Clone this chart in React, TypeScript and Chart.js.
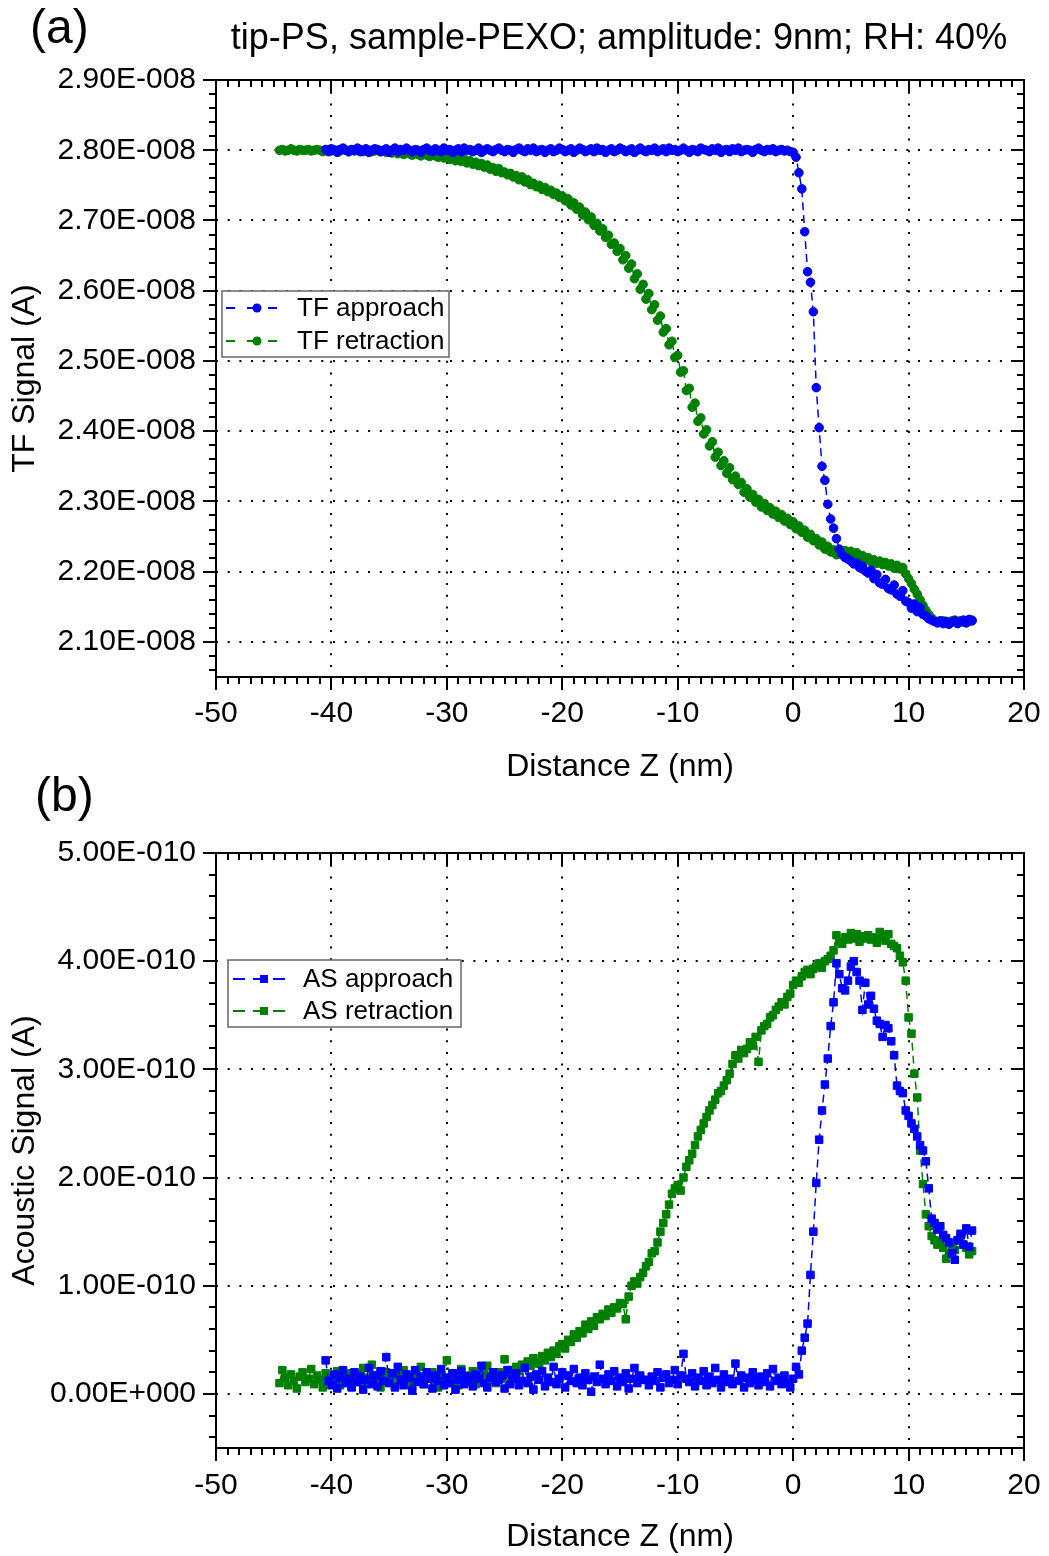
import React, { useEffect, useRef } from 'react';
import { Chart, registerables } from 'chart.js';

Chart.register(...registerables);

const FONT = "'Liberation Sans', Arial, Helvetica, sans-serif";
Chart.defaults.font.family = FONT;
Chart.defaults.color = '#000';

// ---------- data ----------
// Distance Z sampling grid (nm)
const APPROACH_Z_START = -40.5;
const RETRACTION_Z_START = -44.5;
const Z_STEP = 0.25;

const TF_UNIT = 1e-8; // TF values below are in units of 1E-008 A
const AS_UNIT = 1e-10; // AS values below are in units of 1E-010 A

const X_TICKS = [-50, -40, -30, -20, -10, 0, 10, 20];
const TF_Y_TICKS = [2.1, 2.2, 2.3, 2.4, 2.5, 2.6, 2.7, 2.8, 2.9];
const AS_Y_TICKS = [0, 1, 2, 3, 4, 5];

const SERIES_LABELS = ['TF approach', 'TF retraction', 'AS approach', 'AS retraction'];

// TF approach, Z from -40.5 nm, step 0.25 nm
const tfApproach = [
  2.801, 2.798, 2.802, 2.800, 2.797, 2.801, 2.803, 2.800, 2.798, 2.801, 2.800, 2.803, 2.798, 2.800, 2.802, 2.797, 2.800, 2.802, 2.801, 2.798,
  2.800, 2.802, 2.797, 2.800, 2.803, 2.798, 2.801, 2.800, 2.803, 2.800, 2.798, 2.801, 2.800, 2.797, 2.801, 2.803, 2.800, 2.798, 2.802, 2.800,
  2.798, 2.803, 2.800, 2.801, 2.797, 2.800, 2.802, 2.798, 2.803, 2.800, 2.801, 2.798, 2.800, 2.803, 2.797, 2.800, 2.802, 2.800, 2.798, 2.801,
  2.803, 2.800, 2.798, 2.801, 2.800, 2.797, 2.801, 2.803, 2.800, 2.798, 2.802, 2.800, 2.803, 2.798, 2.800, 2.801, 2.797, 2.800, 2.802, 2.798,
  2.800, 2.803, 2.801, 2.798, 2.800, 2.802, 2.797, 2.800, 2.803, 2.801, 2.798, 2.800, 2.802, 2.798, 2.803, 2.800, 2.801, 2.797, 2.800, 2.802,
  2.798, 2.800, 2.803, 2.801, 2.798, 2.800, 2.802, 2.797, 2.800, 2.803, 2.800, 2.798, 2.801, 2.800, 2.803, 2.798, 2.800, 2.802, 2.798, 2.803,
  2.800, 2.801, 2.798, 2.800, 2.803, 2.800, 2.797, 2.801, 2.800, 2.798, 2.803, 2.801, 2.800, 2.798, 2.802, 2.800, 2.803, 2.797, 2.800, 2.801,
  2.798, 2.802, 2.800, 2.803, 2.798, 2.800, 2.801, 2.800, 2.797, 2.801, 2.803, 2.800, 2.798, 2.801, 2.800, 2.802, 2.798, 2.800, 2.801, 2.799,
  2.800, 2.798, 2.797,
  2.790, 2.768, 2.745, 2.684, 2.627, 2.612, 2.570, 2.462, 2.405, 2.350, 2.330, 2.296, 2.275, 2.262, 2.247, 2.232, 2.224, 2.220, 2.218, 2.215,
  2.211, 2.212, 2.206, 2.208, 2.201, 2.198, 2.202, 2.190, 2.196, 2.184, 2.182, 2.189, 2.176, 2.174, 2.181, 2.168, 2.165, 2.173, 2.158, 2.156,
  2.148, 2.154, 2.143, 2.149, 2.139, 2.137, 2.133, 2.131,
  2.129, 2.127, 2.130, 2.126, 2.129, 2.125, 2.128, 2.130, 2.126, 2.129, 2.131, 2.127, 2.132, 2.130,
];

// TF retraction, Z from -44.5 nm, step 0.25 nm
const tfRetraction = [
  2.800, 2.801, 2.799, 2.800, 2.802, 2.800, 2.799, 2.801, 2.800, 2.800,
  2.801, 2.799, 2.800, 2.801, 2.800, 2.798, 2.800, 2.801, 2.799, 2.800,
  2.800, 2.799, 2.801, 2.800, 2.798, 2.800, 2.799, 2.800, 2.801, 2.798,
  2.799, 2.800, 2.798, 2.799, 2.800, 2.798, 2.799, 2.797,
  2.798, 2.796, 2.799, 2.795, 2.797, 2.794, 2.797, 2.795, 2.793, 2.796, 2.794, 2.792, 2.795, 2.793, 2.791, 2.794, 2.792, 2.790, 2.792, 2.789,
  2.791, 2.787, 2.790, 2.785, 2.788, 2.784, 2.787, 2.782, 2.785, 2.780, 2.783, 2.778, 2.781, 2.776, 2.779, 2.773, 2.775, 2.770, 2.774, 2.768,
  2.769, 2.765, 2.767, 2.762, 2.764, 2.758, 2.762, 2.755, 2.758, 2.751, 2.753, 2.748, 2.750, 2.744, 2.747, 2.741, 2.743, 2.737, 2.739, 2.733,
  2.735, 2.728, 2.731, 2.722, 2.725, 2.716, 2.719, 2.708, 2.712, 2.701, 2.705, 2.693, 2.696, 2.685, 2.688, 2.676, 2.679, 2.666, 2.668, 2.656,
  2.660, 2.644, 2.650, 2.632, 2.638, 2.617, 2.624, 2.602, 2.609, 2.588, 2.596, 2.573, 2.580, 2.558, 2.564, 2.541, 2.546, 2.523, 2.528, 2.505,
  2.508, 2.484, 2.486, 2.458, 2.461, 2.434, 2.440, 2.414, 2.419, 2.396, 2.402, 2.379, 2.385, 2.363, 2.370, 2.351, 2.358, 2.340, 2.348, 2.331,
  2.336, 2.324, 2.327, 2.313, 2.318, 2.306, 2.310, 2.299, 2.303, 2.292, 2.297, 2.287, 2.291, 2.282, 2.286, 2.277, 2.281, 2.272, 2.276, 2.267,
  2.271, 2.261, 2.265, 2.256, 2.259, 2.249, 2.253, 2.244, 2.247, 2.238, 2.242, 2.232, 2.236, 2.228, 2.231, 2.224, 2.226, 2.228, 2.230, 2.226,
  2.229, 2.224, 2.227, 2.221, 2.223, 2.217, 2.220, 2.214, 2.217, 2.212, 2.215, 2.210, 2.213, 2.208, 2.211, 2.205, 2.209, 2.204, 2.206, 2.197,
  2.190, 2.183, 2.175, 2.168, 2.160, 2.152, 2.145, 2.139, 2.134, 2.130, 2.129, 2.128, 2.130, 2.129, 2.128, 2.130, 2.131, 2.129, 2.130, 2.128,
  2.130, 2.129, 2.131,
];

// AS approach, Z from -40.5 nm, step 0.25 nm
const asApproach = [
  0.31, 0.12, 0.08, 0.18, 0.05, 0.15, 0.22, 0.10, 0.14, 0.06, 0.20, 0.11, 0.16, 0.04, 0.13, 0.24, 0.09, 0.17, 0.07, 0.21,
  0.12, 0.34, 0.10, 0.19, 0.06, 0.25, 0.13, 0.08, 0.18, 0.15, 0.03, 0.22, 0.11, 0.16, 0.09, 0.20, 0.14, 0.05, 0.17, 0.12,
  0.23, 0.08, 0.15, 0.10, 0.19, 0.04, 0.13, 0.21, 0.09, 0.16, 0.12, 0.07, 0.18, 0.14, 0.26, 0.10, 0.06, 0.15, 0.20, 0.11,
  0.13, 0.17, 0.05, 0.22, 0.09, 0.14, 0.19, 0.08, 0.12, 0.24, 0.10, 0.16, 0.04, 0.18, 0.13, 0.21, 0.07, 0.15, 0.11, 0.25,
  0.09, 0.14, 0.20, 0.06, 0.17, 0.12, 0.23, 0.10, 0.15, 0.08, 0.19, 0.13, 0.02, 0.16, 0.11, 0.27, 0.14, 0.09, 0.18, 0.12,
  0.21, 0.07, 0.15, 0.11, 0.19, 0.05, 0.14, 0.24, 0.10, 0.17, 0.13, 0.13, 0.08, 0.16, 0.12, 0.20, 0.06, 0.15, 0.18, 0.10,
  0.13, 0.22, 0.09, 0.17, 0.37, 0.14, 0.11, 0.19, 0.07, 0.15, 0.12, 0.21, 0.08, 0.16, 0.10, 0.24, 0.13, 0.06, 0.18, 0.11,
  0.14, 0.09, 0.28, 0.12, 0.17, 0.06, 0.15, 0.10, 0.20, 0.13, 0.08, 0.16, 0.11, 0.19, 0.07, 0.23, 0.12, 0.15, 0.09, 0.17,
  0.10, 0.06, 0.14, 0.25, 0.18,
  0.40, 0.52, 0.65, 1.10, 1.50, 1.95, 2.35, 2.62, 2.86, 3.10, 3.40, 3.62, 3.98, 3.88, 3.75, 3.73, 3.82, 3.95,
  4.00, 3.90, 3.82, 3.55, 3.80, 3.60, 3.68, 3.56, 3.45, 3.42, 3.30, 3.41, 3.38, 3.26, 3.13, 2.85, 2.80, 2.78, 2.62, 2.57,
  2.50, 2.45, 2.38, 2.30, 2.25, 2.15, 1.90, 1.62, 1.58, 1.52, 1.55, 1.47, 1.44, 1.40, 1.30, 1.24, 1.42, 1.48, 1.38, 1.53, 1.36, 1.51,
];

// AS retraction, Z from -44.5 nm, step 0.25 nm
const asRetraction = [
  0.10, 0.22, 0.15, 0.08, 0.18, 0.12, 0.05, 0.16, 0.20, 0.11, 0.14, 0.23, 0.09, 0.17, 0.13, 0.06, 0.19, 0.12,
  0.15, 0.10, 0.21, 0.08, 0.16, 0.13, 0.19, 0.07, 0.14, 0.11, 0.18, 0.24, 0.09, 0.15, 0.27, 0.12, 0.17, 0.06, 0.14, 0.20,
  0.11, 0.16, 0.08, 0.19, 0.13, 0.22, 0.10, 0.15, 0.07, 0.18, 0.12, 0.25, 0.09, 0.16, 0.14, 0.20, 0.11, 0.06, 0.17, 0.13,
  0.31, 0.15, 0.10, 0.19, 0.08, 0.23, 0.14, 0.11, 0.17, 0.21, 0.09, 0.15, 0.12, 0.18, 0.26, 0.13, 0.16, 0.10, 0.20, 0.14,
  0.32, 0.17, 0.22, 0.19, 0.25, 0.21, 0.27, 0.24, 0.30, 0.26, 0.33, 0.29, 0.28, 0.35, 0.31, 0.38, 0.34, 0.40, 0.37, 0.44,
  0.46, 0.42, 0.50, 0.48, 0.55, 0.52, 0.58, 0.56, 0.64, 0.60, 0.67, 0.63, 0.71, 0.69, 0.74, 0.72, 0.78, 0.75, 0.80, 0.79,
  0.84, 0.83, 0.69, 0.90, 1.00, 1.04, 1.02, 1.08, 1.12, 1.18, 1.22, 1.30, 1.32, 1.40, 1.50, 1.58, 1.66, 1.75, 1.85, 1.90,
  1.93, 1.88, 2.00, 2.10, 2.16, 2.22, 2.30, 2.38, 2.44, 2.50, 2.56, 2.62, 2.67, 2.72, 2.78, 2.80, 2.85, 2.90, 2.96, 3.05,
  3.13, 3.10, 3.18, 3.15, 3.19, 3.25, 3.22, 3.30, 3.07, 3.36, 3.40, 3.42, 3.48, 3.50, 3.55, 3.58, 3.62, 3.60, 3.67, 3.70,
  3.78, 3.82, 3.80, 3.86, 3.90, 3.92, 3.88, 3.93, 3.95, 3.98, 3.94, 4.00, 4.02, 4.05, 4.10, 4.24, 4.18, 4.16, 4.22, 4.20,
  4.26, 4.21, 4.25, 4.18, 4.23, 4.21, 4.24, 4.20, 4.22, 4.17, 4.27, 4.22, 4.19, 4.25, 4.16, 4.14, 4.12, 4.05, 3.99, 3.82,
  3.48, 3.33, 2.96, 2.74, 2.25, 1.94, 1.66, 1.55, 1.46, 1.42, 1.38, 1.40, 1.35, 1.25, 1.30, 1.36, 1.33, 1.42, 1.45, 1.38,
  1.35, 1.29, 1.32,
];

// ---------- helpers ----------
const BLUE = '#0000ff';
const GREEN = '#008000';

function toPoints(values: number[], start: number, unit: number) {
  return values.map((v, i) => ({ x: start + i * Z_STEP, y: v * unit }));
}

function sci(v: number): string {
  if (Math.abs(v) < 1e-25) return '0.00E+000';
  let e = Math.floor(Math.log10(Math.abs(v)));
  let m = Math.round((v / Math.pow(10, e)) * 100) / 100;
  if (Math.abs(m) >= 10) {
    m /= 10;
    e += 1;
  }
  return m.toFixed(2) + 'E' + (e < 0 ? '-' : '+') + String(Math.abs(e)).padStart(3, '0');
}

const frameTicksPlugin = {
  id: 'frameTicks',
  afterDraw(chart: any, _args: any, opts: any) {
    const { ctx, chartArea: a, scales } = chart;
    ctx.save();
    ctx.setLineDash([]);
    ctx.strokeStyle = '#000';
    ctx.lineWidth = 2;
    ctx.strokeRect(a.left, a.top, a.right - a.left, a.bottom - a.top);
    const draw = (scale: any, minor: number, ratio: number, horizontal: boolean) => {
      const k0 = Math.ceil(scale.min / minor - 1e-6);
      const k1 = Math.floor(scale.max / minor + 1e-6);
      for (let k = k0; k <= k1; k++) {
        const major = k % ratio === 0;
        const len = major ? 13 : 7;
        const p = Math.round(scale.getPixelForValue(k * minor));
        ctx.beginPath();
        if (horizontal) {
          ctx.moveTo(p, a.bottom);
          ctx.lineTo(p, a.bottom + len);
          ctx.moveTo(p, a.top);
          ctx.lineTo(p, a.top + len);
        } else {
          ctx.moveTo(a.left, p);
          ctx.lineTo(a.left - len, p);
          ctx.moveTo(a.right, p);
          ctx.lineTo(a.right - len, p);
        }
        ctx.stroke();
      }
    };
    draw(scales.x, opts.xMinor, opts.xRatio, true);
    draw(scales.y, opts.yMinor, opts.yRatio, false);
    ctx.restore();
  },
};

const boxLegendPlugin = {
  id: 'boxLegend',
  afterDraw(chart: any, _args: any, o: any) {
    const { ctx } = chart;
    ctx.save();
    ctx.fillStyle = '#fff';
    ctx.fillRect(o.x, o.y, o.w, o.h);
    ctx.strokeStyle = '#666';
    ctx.lineWidth = 1.5;
    ctx.setLineDash([]);
    ctx.strokeRect(o.x, o.y, o.w, o.h);
    chart.data.datasets.forEach((ds: any, i: number) => {
      const y = o.rowY[i];
      ctx.strokeStyle = ds.borderColor;
      ctx.lineWidth = 1.8;
      ctx.setLineDash(o.dash);
      ctx.beginPath();
      ctx.moveTo(o.lineX0, y);
      ctx.lineTo(o.lineX1, y);
      ctx.stroke();
      ctx.setLineDash([]);
      ctx.fillStyle = ds.borderColor;
      if (ds.pointStyle === 'rect') {
        ctx.fillRect(o.markX - 4, y - 4, 8, 8);
      } else {
        ctx.beginPath();
        ctx.arc(o.markX, y, 4.5, 0, Math.PI * 2);
        ctx.fill();
      }
      ctx.fillStyle = '#000';
      ctx.font = `${o.size}px ${FONT}`;
      ctx.textBaseline = 'middle';
      ctx.textAlign = 'left';
      ctx.fillText(ds.label, o.textX, y + 1);
    });
    ctx.restore();
  },
};

const headerTextPlugin = {
  id: 'headerText',
  afterDraw(chart: any, _args: any, o: any) {
    const { ctx } = chart;
    ctx.save();
    ctx.fillStyle = '#000';
    ctx.textBaseline = 'alphabetic';
    (o.items || []).forEach((it: any) => {
      ctx.font = `${it.size}px ${FONT}`;
      ctx.textAlign = it.align;
      ctx.fillText(it.text, it.x, it.y);
    });
    ctx.restore();
  },
};

function makeConfig(p: any) {
  const gridColor = '#000';
  const makeDs = (label: string, data: any[], color: string) => ({
    label,
    data,
    showLine: true,
    borderColor: color,
    backgroundColor: color,
    borderWidth: 1.5,
    borderDash: [8, 5],
    pointStyle: p.pointStyle,
    pointRadius: p.pointRadius,
    pointBorderWidth: 1,
    pointBackgroundColor: color,
    pointBorderColor: color,
  });
  return {
    type: 'scatter' as const,
    data: {
      datasets: [makeDs(p.labels[0], p.approach, BLUE), makeDs(p.labels[1], p.retraction, GREEN)],
    },
    options: {
      responsive: false,
      animation: false,
      devicePixelRatio: 1,
      layout: { padding: { left: 0, right: 25, top: p.padTop, bottom: 0 } },
      scales: {
        x: {
          type: 'linear',
          min: X_TICKS[0],
          max: X_TICKS[X_TICKS.length - 1],
          afterFit: (s: any) => {
            s.height = p.xAxisH;
            s.paddingLeft = 0;
            s.paddingRight = 0;
          },
          ticks: {
            stepSize: X_TICKS[1] - X_TICKS[0],
            padding: p.xTickPad,
            maxRotation: 0,
            color: '#000',
            font: { size: 30 },
            callback: (v: any) => String(Math.round(Number(v))),
          },
          grid: { drawTicks: false, color: gridColor, lineWidth: 2 },
          border: { display: false, dash: [2, 9.7] },
          title: {
            display: true,
            text: 'Distance Z (nm)',
            color: '#000',
            font: { size: 32 },
            padding: { top: 0, bottom: p.xTitlePad },
          },
        },
        y: {
          type: 'linear',
          min: p.yMin,
          max: p.yMax,
          afterFit: (s: any) => {
            s.width = 216;
            s.paddingTop = 0;
            s.paddingBottom = 0;
          },
          ticks: {
            stepSize: p.yStep,
            includeBounds: true,
            padding: 20,
            color: '#000',
            font: { size: 30 },
            callback: (v: any) => {
              const r = Number(v) / p.yStep;
              return Math.abs(r - Math.round(r)) < 1e-4 ? sci(Number(v)) : '';
            },
          },
          grid: { drawTicks: false, color: gridColor, lineWidth: 2 },
          border: { display: false, dash: [2, 9.7] },
          title: {
            display: true,
            text: p.yTitle,
            color: '#000',
            font: { size: 32 },
            padding: { top: 6, bottom: 0 },
          },
        },
      },
      plugins: {
        legend: { display: false },
        tooltip: { enabled: false },
        frameTicks: { xMinor: 1, xRatio: 10, yMinor: p.yMinor, yRatio: 5 },
        boxLegend: p.legend,
        headerText: { items: p.header },
      },
    },
    plugins: [frameTicksPlugin, boxLegendPlugin, headerTextPlugin],
  };
}

export default function App() {
  const topRef = useRef<HTMLCanvasElement>(null);
  const botRef = useRef<HTMLCanvasElement>(null);

  useEffect(() => {
    const top = new Chart(
      topRef.current as HTMLCanvasElement,
      makeConfig({
        labels: [SERIES_LABELS[0], SERIES_LABELS[1]],
        approach: toPoints(tfApproach, APPROACH_Z_START, TF_UNIT),
        retraction: toPoints(tfRetraction, RETRACTION_Z_START, TF_UNIT),
        pointStyle: 'circle',
        pointRadius: 4.3,
        padTop: 80,
        xAxisH: 113,
        xTickPad: 19,
        xTitlePad: 4,
        yMin: 2.05 * TF_UNIT,
        yMax: TF_Y_TICKS[TF_Y_TICKS.length - 1] * TF_UNIT,
        yStep: (TF_Y_TICKS[1] - TF_Y_TICKS[0]) * TF_UNIT,
        yMinor: 0.02 * TF_UNIT,
        yTitle: 'TF Signal (A)',
        legend: {
          x: 222, y: 291, w: 227, h: 66,
          rowY: [308, 341],
          lineX0: 226, lineX1: 278, markX: 257, textX: 297,
          dash: [9, 12], size: 26,
        },
        header: [
          { text: '(a)', x: 30, y: 43, size: 48, align: 'left' },
          { text: 'tip-PS, sample-PEXO; amplitude: 9nm; RH: 40%', x: 619, y: 49, size: 36, align: 'center' },
        ],
      }) as any
    );
    const bot = new Chart(
      botRef.current as HTMLCanvasElement,
      makeConfig({
        labels: [SERIES_LABELS[2], SERIES_LABELS[3]],
        approach: toPoints(asApproach, APPROACH_Z_START, AS_UNIT),
        retraction: toPoints(asRetraction, RETRACTION_Z_START, AS_UNIT),
        pointStyle: 'rect',
        pointRadius: 5.3,
        padTop: 83,
        xAxisH: 108,
        xTickPad: 20,
        xTitlePad: 0,
        yMin: -0.5 * AS_UNIT,
        yMax: AS_Y_TICKS[AS_Y_TICKS.length - 1] * AS_UNIT,
        yStep: (AS_Y_TICKS[1] - AS_Y_TICKS[0]) * AS_UNIT,
        yMinor: 0.2 * AS_UNIT,
        yTitle: 'Acoustic Signal (A)',
        legend: {
          x: 228, y: 190, w: 233, h: 67,
          rowY: [209, 241],
          lineX0: 233, lineX1: 287, markX: 264, textX: 303,
          dash: [12, 8], size: 26,
        },
        header: [{ text: '(b)', x: 35, y: 41, size: 48, align: 'left' }],
      }) as any
    );
    return () => {
      top.destroy();
      bot.destroy();
    };
  }, []);

  return (
    <div style={{ position: 'absolute', left: 0, top: 0, width: 1049, height: 1556, background: '#fff' }}>
      <canvas ref={topRef} width={1049} height={790} style={{ position: 'absolute', left: 0, top: 0 }} />
      <canvas ref={botRef} width={1049} height={786} style={{ position: 'absolute', left: 0, top: 770 }} />
    </div>
  );
}
